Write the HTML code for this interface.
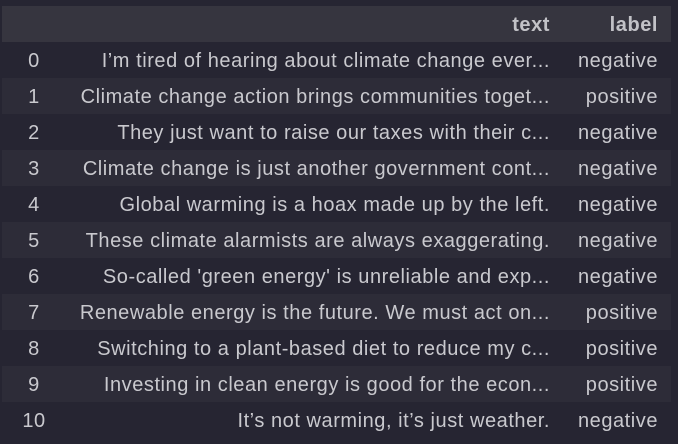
<!DOCTYPE html>
<html><head><meta charset="utf-8"><style>
html,body{margin:0;padding:0;width:678px;height:444px;background:#262532;overflow:hidden}
body{font-family:"Liberation Sans",sans-serif;font-size:20px;letter-spacing:0.55px;color:#c9c9ce}
.row{position:absolute;left:2px;width:669px;height:36px}
.hdr{top:6px;background:#36353f;font-weight:bold;color:#c2c2c7}
.odd{background:#2d2c38}
.c{position:absolute;top:1px;line-height:36px;white-space:nowrap}
.idx{left:0;width:64px;text-align:center}
.txt{right:121px;text-align:right}
.lbl{right:13px;text-align:right}
</style></head><body>
<div>
<div class="row hdr">
<span class="c txt">text</span>
<span class="c lbl">label</span>
</div>
<div id="rows"></div>
</div>
<script>
const texts=["I’m tired of hearing about climate change ever...","Climate change action brings communities toget...","They just want to raise our taxes with their c...","Climate change is just another government cont...","Global warming is a hoax made up by the left.","These climate alarmists are always exaggerating.","So-called 'green energy' is unreliable and exp...","Renewable energy is the future. We must act on...","Switching to a plant-based diet to reduce my c...","Investing in clean energy is good for the econ...","It’s not warming, it’s just weather."];
const labels=["negative","positive","negative","negative","negative","negative","negative","positive","positive","positive","negative"];
const c=document.getElementById('rows');
texts.forEach((t,i)=>{
 const r=document.createElement('div');
 r.className='row'+(i%2?' odd':'');
 r.style.top=(42+36*i)+'px';
 
 
 const a=document.createElement('span');a.className='c idx';a.textContent=i;
 
 
 const b=document.createElement('span');b.className='c txt';b.textContent=t;
 
 
 const d=document.createElement('span');d.className='c lbl';d.textContent=labels[i];
 
 
 r.append(a,b,d);c.appendChild(r);
});
</script>
</body></html>
